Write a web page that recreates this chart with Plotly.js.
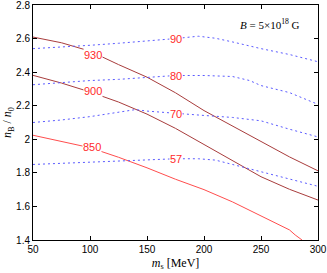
<!DOCTYPE html>
<html>
<head>
<meta charset="utf-8">
<script src="https://cdn.plot.ly/plotly-3.0.1.min.js"></script>
<style>html,body{margin:0;padding:0;background:#fff;}#chart{width:327px;height:273px;}</style>
</head>
<body>
<div id="chart"></div>
<script>
// Solid lines (constant chemical potential, MeV)
var ms930 = [50, 75, 100, 125, 150, 175, 200, 225, 250, 275, 300];
var nb930 = [2.609, 2.575, 2.525, 2.445, 2.37, 2.277, 2.171, 2.078, 1.985, 1.895, 1.812];
var ms900 = [50, 75, 100, 125, 150, 175, 200, 225, 250, 275, 300];
var nb900 = [2.381, 2.335, 2.282, 2.222, 2.15, 2.065, 1.969, 1.873, 1.777, 1.702, 1.638];
var ms850 = [50, 75, 100, 125, 150, 175, 200, 225, 250, 265, 275, 280, 286];
var nb850 = [2.024, 1.985, 1.95, 1.893, 1.83, 1.762, 1.70, 1.627, 1.545, 1.495, 1.46, 1.43, 1.40];
// Dotted lines (constant value)
var ms90 = [50, 75, 100, 125, 150, 175, 195, 210, 225, 250, 275, 300];
var nb90 = [2.54, 2.548, 2.56, 2.572, 2.585, 2.60, 2.614, 2.602, 2.58, 2.54, 2.505, 2.462];
var ms80 = [50, 75, 100, 125, 150, 175, 200, 225, 240, 250, 275, 300];
var nb80 = [2.325, 2.338, 2.35, 2.357, 2.368, 2.38, 2.38, 2.374, 2.35, 2.32, 2.278, 2.208];
var ms70 = [50, 75, 100, 125, 140, 150, 175, 200, 225, 250, 275, 300];
var nb70 = [2.10, 2.115, 2.135, 2.16, 2.177, 2.168, 2.153, 2.142, 2.13, 2.11, 2.06, 2.014];
var ms57 = [50, 75, 100, 125, 150, 175, 195, 210, 225, 250, 275, 300];
var nb57 = [1.85, 1.856, 1.862, 1.872, 1.878, 1.884, 1.884, 1.876, 1.85, 1.808, 1.765, 1.72];

var labelTexts = ["930", "900", "850", "90", "80", "70", "57"];
var labelX = [103, 103, 102, 175, 175, 175, 175];
var labelY = [2.50, 2.285, 1.955, 2.60, 2.38, 2.152, 1.882];
var xTicks = [50, 100, 150, 200, 250, 300];
var yTicks = [1.4, 1.6, 1.8, 2, 2.2, 2.4, 2.6, 2.8];
var yTickText = ["1.4", "1.6", "1.8", "2", "2.2", "2.4", "2.6", "2.8"];

var darkRed = "#a83c3c", lightRed = "#ff4d4d", blue = "#5a5aff";
function solid(x, y, c) { return {x: x, y: y, mode: "lines", line: {color: c, width: 1}, hoverinfo: "skip"}; }
function dotted(x, y) { return {x: x, y: y, mode: "lines", line: {color: blue, width: 1, dash: "2px,3px"}, hoverinfo: "skip"}; }

var data = [
  solid(ms930, nb930, darkRed), solid(ms900, nb900, darkRed), solid(ms850, nb850, lightRed),
  dotted(ms90, nb90), dotted(ms80, nb80), dotted(ms70, nb70), dotted(ms57, nb57)
];

var annotations = labelTexts.map(function (t, i) {
  return {x: labelX[i], y: labelY[i], xref: "x", yref: "y", text: t, showarrow: false,
    font: {family: "Liberation Sans, Arial, sans-serif", size: 11, color: "#ff2a2a"},
    bgcolor: "#ffffff", borderpad: 0};
});
annotations.push({x: 0.944, y: 0.921, xref: "paper", yref: "paper", xanchor: "right", yanchor: "middle",
  text: "<i>B</i> = 5×10<sup>18</sup> G", showarrow: false,
  font: {family: "Liberation Serif, Times New Roman, serif", size: 11, color: "#000"}});

var axisCommon = {showgrid: false, zeroline: false, showline: true, linecolor: "#000", linewidth: 1,
  mirror: "ticks", ticks: "inside", ticklen: 4, tickwidth: 1, tickcolor: "#000",
  ticklabeloverflow: "allow",
  tickfont: {family: "Liberation Sans, Arial, sans-serif", size: 10, color: "#000"}};

var layout = {
  width: 327, height: 273,
  margin: {l: 33, r: 9, t: 4.5, b: 33},
  paper_bgcolor: "#fff", plot_bgcolor: "#fff",
  showlegend: false,
  xaxis: Object.assign({}, axisCommon, {range: [50, 300], tickvals: xTicks,
    title: {text: "<i>m</i><sub>s</sub> [MeV]", standoff: 4,
      font: {family: "Liberation Serif, Times New Roman, serif", size: 12, color: "#000"}}}),
  yaxis: Object.assign({}, axisCommon, {range: [1.4, 2.8], tickvals: yTicks, ticktext: yTickText,
    title: {text: "<i>n</i><sub>B</sub> / <i>n</i><sub>0</sub>", standoff: 1,
      font: {family: "Liberation Serif, Times New Roman, serif", size: 12, color: "#000"}}}),
  annotations: annotations
};

Plotly.newPlot("chart", data, layout, {displayModeBar: false, staticPlot: true});
</script>
</body>
</html>
